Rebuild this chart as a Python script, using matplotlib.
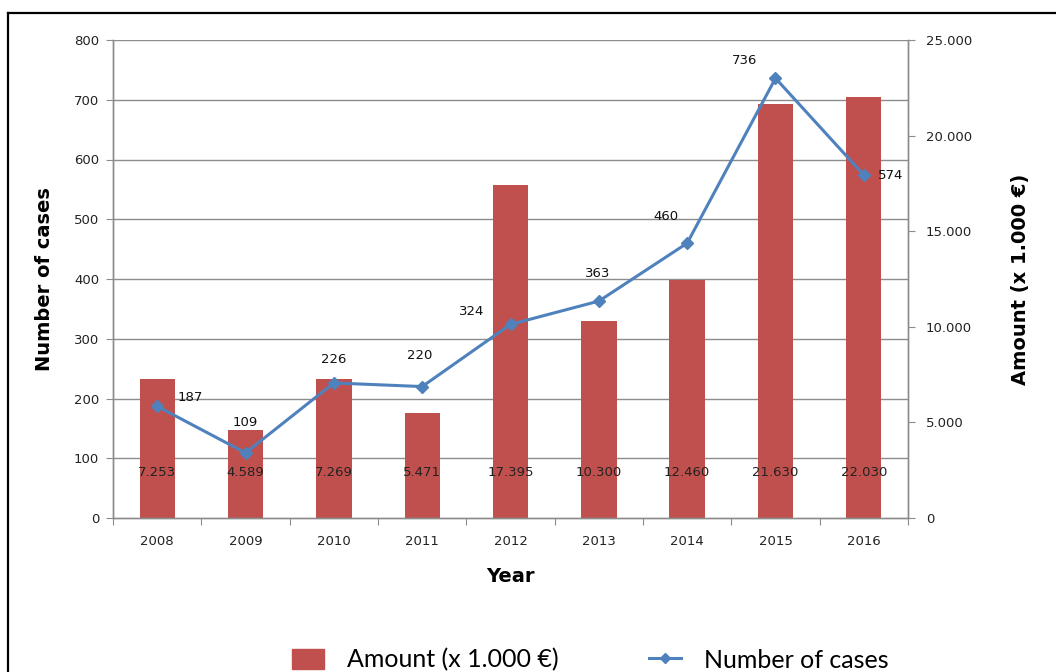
import matplotlib
matplotlib.use("Agg")
import matplotlib.pyplot as plt
import matplotlib.transforms as mtransforms
from matplotlib.lines import Line2D
from matplotlib.patches import Patch
import numpy as np

years = ["2008", "2009", "2010", "2011", "2012", "2013", "2014", "2015", "2016"]
cases = [187, 109, 226, 220, 324, 363, 460, 736, 574]
amount = [7253, 4589, 7269, 5471, 17395, 10300, 12460, 21630, 22030]
amount_labels = ["7.253", "4.589", "7.269", "5.471", "17.395", "10.300", "12.460", "21.630", "22.030"]
left_ticks = [0, 100, 200, 300, 400, 500, 600, 700, 800]
right_ticks = [0, 5000, 10000, 15000, 20000, 25000]
right_tick_labels = ["0", "5.000", "10.000", "15.000", "20.000", "25.000"]

# label offsets (points) for the line data labels
case_offsets = [(24, 6), (0, 22), (0, 17), (-2, 22), (-28, 9), (-1, 20), (-15, 19), (-22, 13), (19, 0)]

BAR = "#C0504D"
LINE = "#4F81BD"
GRID = "#8C8C8C"

plt.rcParams["font.family"] = ["DejaVu Sans"]
fig = plt.figure(figsize=(10.56, 6.72), dpi=100)
ax = fig.add_axes([113/1056, 1-518/672, (908-113)/1056, (518-40)/672])
ax2 = ax.twinx()

x = np.arange(len(years))

# bars on right axis
ax2.bar(x, amount, width=0.4, color=BAR, zorder=2)
ax2.set_ylim(0, 25000)
ax2.set_yticks(right_ticks)
ax2.set_yticklabels(right_tick_labels)

ax.set_zorder(ax2.get_zorder() + 1)
ax.patch.set_visible(False)
ax2.patch.set_visible(True)

ax.plot(x, cases, color=LINE, lw=2.2, marker="D", markersize=6, zorder=5)
ax.set_ylim(0, 800)
ax.set_yticks(left_ticks)
ax.set_xlim(-0.5, len(years) - 0.5)

# gridlines from left axis, drawn behind bars
for v in left_ticks[1:]:
    ax2.axhline(v * 25000 / 800, color=GRID, lw=1.0, zorder=1)

# x ticks between categories
ax.set_xticks(np.arange(-0.5, len(years), 1.0))
ax.set_xticklabels([])
ax.set_xticks(x, minor=True)
ax.set_xticklabels(years, minor=True)
ax.tick_params(axis="x", which="minor", length=0, pad=12, labelsize=9.5, labelcolor="#222222")
ax.tick_params(axis="x", which="major", length=5, color=GRID, direction="out")
ax.tick_params(axis="y", length=5, color=GRID, labelsize=9.5, labelcolor="#222222", pad=5)
ax2.tick_params(axis="y", length=5, color=GRID, labelsize=9.5, labelcolor="#222222", pad=8)

for a in (ax, ax2):
    a.spines["top"].set_visible(False)
    for s in ("left", "right", "bottom"):
        a.spines[s].set_color(GRID)
        a.spines[s].set_linewidth(1.0)

# data labels for line
for xi, v, (dx, dy) in zip(x, cases, case_offsets):
    ax.annotate(str(v), (xi, v), xytext=(dx, dy), textcoords="offset points",
                ha="center", va="center", fontsize=9.5, color="#111111", zorder=6)

# data labels for bars (near bottom, inside bars)
trans = mtransforms.blended_transform_factory(ax.transData, ax.transAxes)
for xi, lab in zip(x, amount_labels):
    ax.text(xi, 0.096, lab, transform=trans, ha="center", va="center",
            fontsize=9.5, color="#222222", zorder=6)

ax.set_ylabel("Number of cases", fontsize=14, fontweight="bold", labelpad=14)
ax2.set_ylabel("Amount (x 1.000 €)", fontsize=14, fontweight="bold", labelpad=28, rotation=90)
ax.set_xlabel("Year", fontsize=14, fontweight="bold", labelpad=14)

# legend
handles = [Patch(facecolor=BAR, edgecolor=BAR),
           Line2D([0], [0], color=LINE, lw=2.2, marker="D", markersize=5)]
fig.legend(handles, ["Amount (x 1.000 €)", "Number of cases"], loc="center",
           bbox_to_anchor=(590/1056, 1-660/672), ncol=2, frameon=False,
           prop={"family": "Lato", "size": 18}, handlelength=1.3, handleheight=0.9,
           columnspacing=3.6, handletextpad=0.9)

# border lines (top and left)
fig.add_artist(Line2D([8/1056, 1.0], [1-13/672, 1-13/672], color="black", lw=1.6, transform=fig.transFigure))
fig.add_artist(Line2D([8/1056, 8/1056], [0, 1-13/672], color="black", lw=1.6, transform=fig.transFigure))

fig.savefig("out.png", dpi=100)
